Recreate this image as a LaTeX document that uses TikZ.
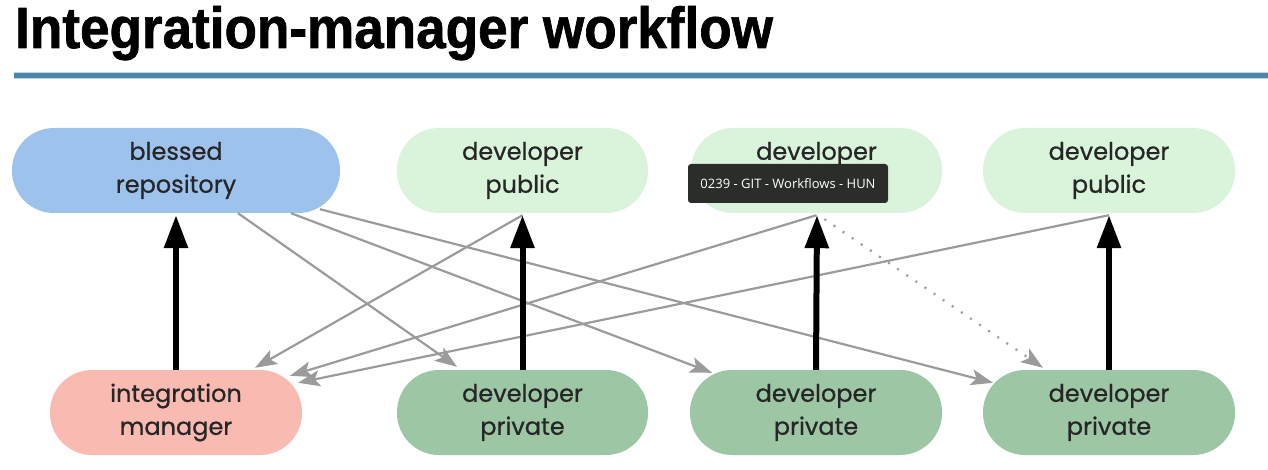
\documentclass[tikz,border=0pt]{standalone}
\usepackage{fontspec}
\usetikzlibrary{arrows.meta,calc}
\newfontfamily\titlefont[FakeStretch=0.915,FakeBold=1.2]{Liberation Sans Bold}
\newfontfamily\boxfont[FakeBold=0.7]{Poppins}
\newfontfamily\tipfont{Open Sans}
\definecolor{bluebox}{RGB}{157,195,236}
\definecolor{lgreen}{RGB}{218,244,220}
\definecolor{dgreen}{RGB}{157,198,164}
\definecolor{salmon}{RGB}{249,187,177}
\definecolor{rule}{RGB}{75,134,170}
\definecolor{rulehalo}{RGB}{190,215,230}
\definecolor{gline}{RGB}{155,155,155}
\definecolor{txt}{RGB}{38,38,38}
\definecolor{tipbg}{RGB}{43,45,43}
\tikzset{
  pill/.style={rectangle, rounded corners=42pt, minimum height=85pt, inner sep=0pt,
    align=center, text=txt, font=\boxfont\fontsize{24}{33}\selectfont},
  pushup/.style={line width=6pt, black, -{Triangle[length=33pt,width=23pt]}, shorten >=2pt},
  grayarrow/.style={line width=2.2pt, gline, -{Stealth[length=22pt,width=16pt,inset=5pt]}},
  dotarrow/.style={line width=2.2pt, gline, dash pattern=on 2pt off 9pt, -{Stealth[length=22pt,width=16pt,inset=5pt]}}
}
\begin{document}
\begin{tikzpicture}[x=1pt,y=-1pt]
\useasboundingbox (0,0) rectangle (1268,470);
% title
\node[anchor=base west, inner sep=0pt, font=\titlefont\fontsize{58}{60}\selectfont] (title) at (15,48) {Integration-manager workflow};
\draw[rulehalo, line width=7pt] (14,75.5) -- (1268,75.5);
\draw[rule, line width=4.5pt] (14,75.5) -- (1268,75.5);
% top row
\node[pill, fill=bluebox, minimum width=328pt] (blessed) at (176,170.5) {blessed\\repository};
\node[pill, fill=lgreen, minimum width=251pt] (dp1) at (522.5,170.5) {developer\\public};
\node[pill, fill=lgreen, minimum width=251pt] (dp2) at (816.5,170.5) {developer\\public};
\node[pill, fill=lgreen, minimum width=252pt] (dp3) at (1109,170.5) {developer\\public};
% bottom row
\node[pill, fill=salmon, minimum width=252pt] (im) at (176,412.5) {integration\\manager};
\node[pill, fill=dgreen, minimum width=251pt] (pr1) at (522.5,412.5) {developer\\private};
\node[pill, fill=dgreen, minimum width=252pt] (pr2) at (816,412.5) {developer\\private};
\node[pill, fill=dgreen, minimum width=252pt] (pr3) at (1109,412.5) {developer\\private};
% gray connectors
\draw[grayarrow] ([xshift=62pt]blessed.south) -- ([xshift=-65.5pt,yshift=3pt]pr1.north);
\draw[grayarrow] ([xshift=115pt]blessed.south) -- ([xshift=-104pt,yshift=-3pt]pr2.north);
\draw[grayarrow] ([xshift=144pt,yshift=4pt]blessed.south) -- ([xshift=-116pt,yshift=-13pt]pr3.north);
\draw[grayarrow] ([yshift=-2pt]dp1.south) -- ([xshift=79pt,yshift=2pt]im.north);
\draw[grayarrow] ([yshift=-2pt]dp2.south) -- ([xshift=114pt,yshift=-6pt]im.north);
\draw[grayarrow] ([yshift=-2pt]dp3.south) -- ([xshift=122pt,yshift=-13pt]im.north);
\draw[dotarrow] ([xshift=8pt,yshift=-6pt]dp2.south) -- ([xshift=-66pt,yshift=2pt]pr3.north);
% black push arrows
\draw[pushup] (im.north) -- (blessed.south);
\draw[pushup] (pr1.north) -- (dp1.south);
\draw[pushup] (pr2.north) -- ([xshift=0.5pt]dp2.south);
\draw[pushup] (pr3.north) -- (dp3.south);
% overlay tooltip
\node[fill=tipbg, rounded corners=3pt, minimum width=200pt, minimum height=39pt, inner sep=0pt,
  text=white, font=\tipfont\fontsize{13}{15}\selectfont] (tip) at (788,183.5) {0239 - GIT - Workflows - HUN};
\end{tikzpicture}
\end{document}
